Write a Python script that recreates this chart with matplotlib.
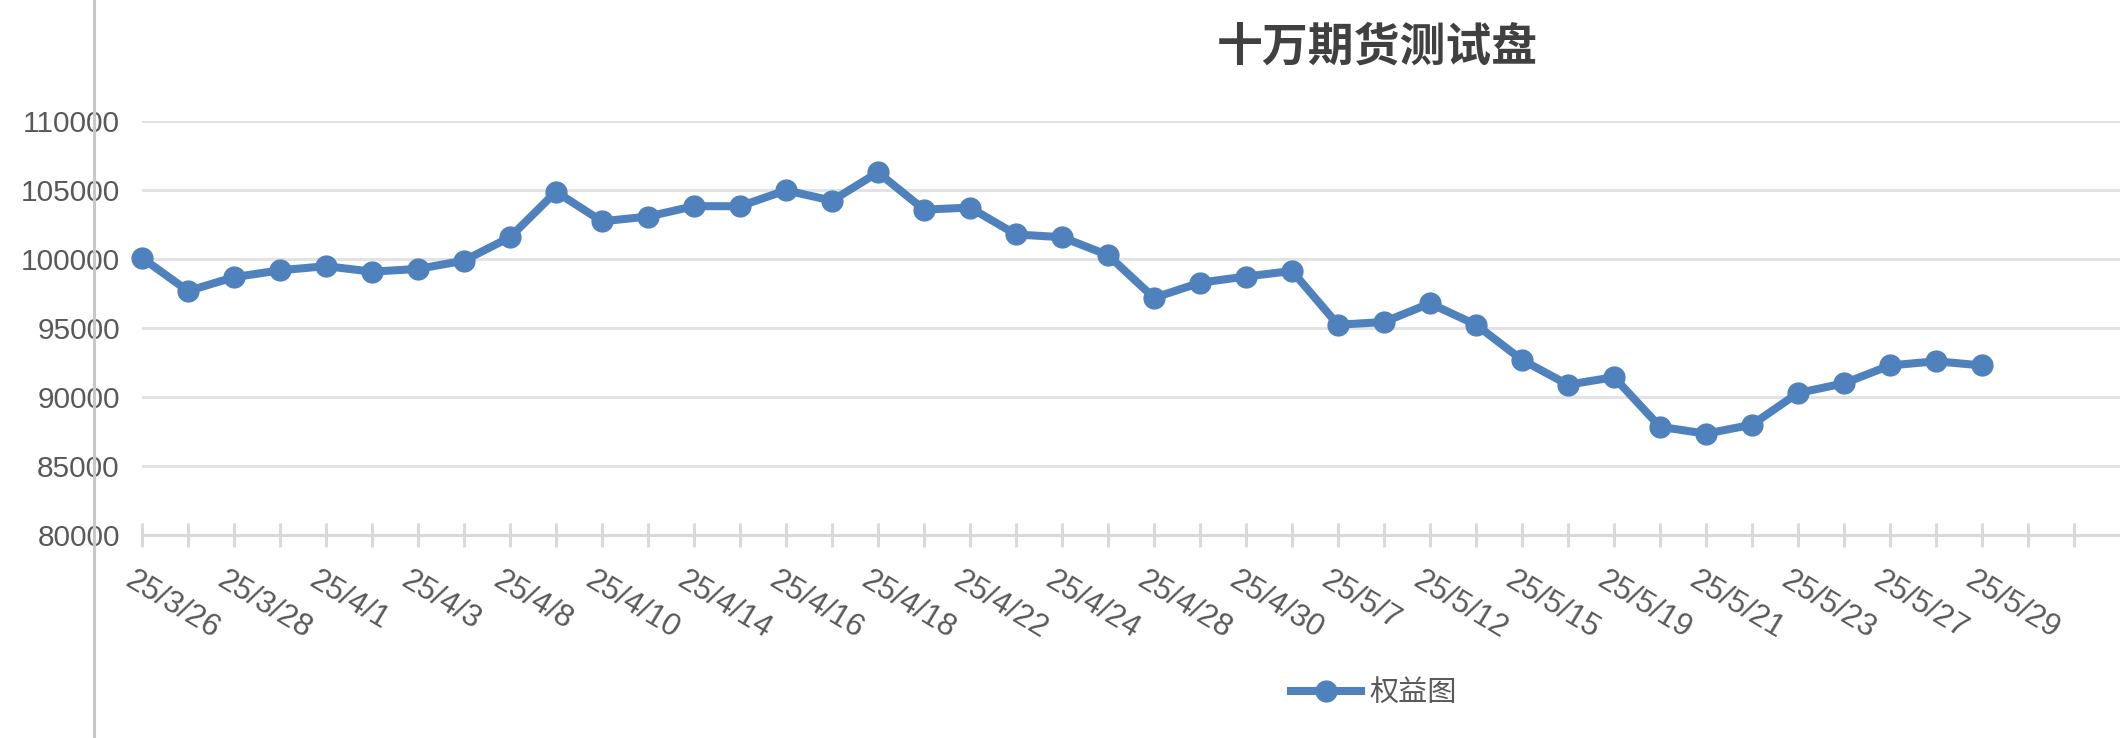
import matplotlib
matplotlib.use("Agg")
import matplotlib.pyplot as plt
from matplotlib.lines import Line2D
from matplotlib.transforms import ScaledTranslation, blended_transform_factory

plt.rcParams['font.family'] = ['Liberation Sans', 'Noto Sans CJK SC', 'DejaVu Sans']

title = "十万期货测试盘"
series_name = "权益图"

dates = ["25/3/26", "25/3/27", "25/3/28", "25/3/31", "25/4/1", "25/4/2", "25/4/3",
         "25/4/7", "25/4/8", "25/4/9", "25/4/10", "25/4/11", "25/4/14", "25/4/15",
         "25/4/16", "25/4/17", "25/4/18", "25/4/21", "25/4/22", "25/4/23", "25/4/24",
         "25/4/25", "25/4/28", "25/4/29", "25/4/30", "25/5/6", "25/5/7", "25/5/8",
         "25/5/12", "25/5/14", "25/5/15", "25/5/16", "25/5/19", "25/5/20", "25/5/21",
         "25/5/22", "25/5/23", "25/5/26", "25/5/27", "25/5/28", "25/5/29"]

equity = [100100, 97700, 98700, 99200, 99500, 99100, 99300, 99900, 101600, 104900,
          102750, 103100, 103850, 103850, 105000, 104250, 106300, 103600, 103750, 101800,
          101600, 100300, 97200, 98300, 98750, 99150, 95250, 95450, 96800, 95250,
          92700, 90900, 91450, 87850, 87350, 88000, 90300, 91000, 92300, 92600, 92300]

n_slots = 43  # category axis has two empty slots after the data
y_ticks = [80000, 85000, 90000, 95000, 100000, 105000, 110000]

W, H = 2120, 738
fig = plt.figure(figsize=(W / 100, H / 100), dpi=100)
left = 142 / W
bottom = 1 - 535 / H
top = 1 - 121.4 / H
ax = fig.add_axes([left, bottom, 1 - left, top - bottom])

blue = '#4f81bd'
x = list(range(len(equity)))
ax.plot(x, equity, color=blue, lw=5.8, marker='o', markersize=15,
        markerfacecolor=blue, markeredgecolor=blue, solid_joinstyle='round',
        clip_on=False, zorder=5, label=series_name)

ax.set_xlim(0, n_slots)
ax.set_ylim(80000, 110000)
ax.set_yticks(y_ticks)
ax.set_yticklabels([str(v) for v in y_ticks])
ax.yaxis.grid(True, color='#e3e3e3', lw=2.2)
ax.set_axisbelow(True)

ax.set_xticks(range(n_slots))
ax.set_xticklabels([""] * n_slots)
trans = blended_transform_factory(ax.transData, ax.transAxes) + \
    ScaledTranslation(-5 / 72, -22 / 72, fig.dpi_scale_trans)
for i, d in enumerate(dates):
    if i % 2 == 0:
        ax.text(i, 0, d, transform=trans, rotation=-31, ha='left', va='top',
                rotation_mode='anchor', fontsize=22.5, color='#595959', clip_on=False)

for s in ['top', 'right', 'left']:
    ax.spines[s].set_visible(False)
ax.spines['bottom'].set_color('#d9d9d9')
ax.spines['bottom'].set_linewidth(2.2)

ax.tick_params(axis='x', direction='inout', length=17, width=2.2, color='#d9d9d9')
ax.tick_params(axis='y', length=0, pad=16, labelsize=21.5, labelcolor='#595959')

fig.text(1377 / W, 1 - 48 / H, title, ha='center', va='center', fontsize=33,
         fontweight='bold', color='#404040', family=['Noto Sans CJK SC', 'DejaVu Sans'])

leg = fig.legend(loc='center', bbox_to_anchor=(1374 / W, 1 - 693 / H), frameon=False,
                 handlelength=2.4, handletextpad=0.3,
                 prop={'family': ['Noto Sans CJK SC', 'DejaVu Sans'], 'size': 21})
for t in leg.get_texts():
    t.set_color('#595959')

fig.add_artist(Line2D([94 / W, 94 / W], [0, 1], transform=fig.transFigure,
                      color='#c8c8c8', lw=2.2, zorder=20))

fig.savefig('out.png', dpi=100, facecolor='white')
